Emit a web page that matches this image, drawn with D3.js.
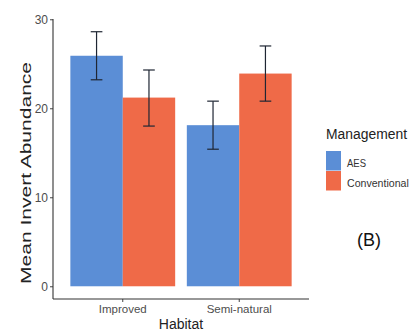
<!DOCTYPE html>
<html>
<head>
<meta charset="utf-8">
<script src="https://cdn.jsdelivr.net/npm/d3@7"></script>
<style>
  html, body { margin: 0; padding: 0; background: #fff; }
  svg { display: block; font-family: "Liberation Sans", Arial, sans-serif; }
</style>
</head>
<body>
<svg id="chart" width="413" height="334"></svg>
<script>
// Mean invertebrate abundance (± SE) by habitat and management
const habitats = ["Improved", "Semi-natural"];
const management = ["AES", "Conventional"];
const meanAES = [25.9, 18.1];
const meanConventional = [21.2, 23.9];
const lowerAES = [23.2, 15.4];
const upperAES = [28.6, 20.8];
const lowerConventional = [18.0, 20.8];
const upperConventional = [24.3, 27.0];
const yTicks = [0, 10, 20, 30];
const colors = ["#5b8ed6", "#ef6a48"];

const rows = [];
habitats.forEach((h, i) => {
  rows.push({ habitat: h, group: "AES", mean: meanAES[i], lo: lowerAES[i], hi: upperAES[i] });
  rows.push({ habitat: h, group: "Conventional", mean: meanConventional[i], lo: lowerConventional[i], hi: upperConventional[i] });
});

const svg = d3.select("#chart");
const panel = { left: 53, right: 309, top: 19, bottom: 299 };

// y domain padded 5% beyond the data range, as ggplot does
const yMax = d3.max(rows, d => d.hi);
const pad = yMax * 0.05;
const y = d3.scaleLinear().domain([-pad, yMax + pad]).range([panel.bottom, panel.top]);

const x = d3.scaleBand().domain(habitats)
  .range([panel.left, panel.right])
  .paddingInner(0.1).paddingOuter(0.149);
const xs = d3.scaleBand().domain(management).range([0, x.bandwidth()]).padding(0);
const color = d3.scaleOrdinal().domain(management).range(colors);

// bars
svg.append("g").selectAll("rect").data(rows).join("rect")
  .attr("x", d => x(d.habitat) + xs(d.group))
  .attr("width", xs.bandwidth())
  .attr("y", d => y(d.mean))
  .attr("height", d => y(0) - y(d.mean))
  .attr("fill", d => color(d.group));

// error bars
const capW = x.step() * 0.1;
const eb = svg.append("g").attr("stroke", "#1f2633").attr("stroke-width", 1.2).attr("fill", "none");
rows.forEach(d => {
  const cx = x(d.habitat) + xs(d.group) + xs.bandwidth() / 2;
  eb.append("line").attr("x1", cx).attr("x2", cx).attr("y1", y(d.lo)).attr("y2", y(d.hi));
  eb.append("line").attr("x1", cx - capW / 2).attr("x2", cx + capW / 2).attr("y1", y(d.hi)).attr("y2", y(d.hi));
  eb.append("line").attr("x1", cx - capW / 2).attr("x2", cx + capW / 2).attr("y1", y(d.lo)).attr("y2", y(d.lo));
});

// axes
const yAxis = svg.append("g").attr("transform", `translate(${panel.left},0)`)
  .call(d3.axisLeft(y).tickValues(yTicks).tickSize(3).tickPadding(2).tickFormat(d3.format("d")));
const xAxis = svg.append("g").attr("transform", `translate(0,${panel.bottom})`)
  .call(d3.axisBottom(x).tickSize(3).tickPadding(3));

[yAxis, xAxis].forEach(g => {
  g.select(".domain").remove();
  g.selectAll(".tick line").attr("stroke", "#444");
  g.selectAll(".tick text").attr("fill", "#4d4d4d").style("font-size", "12px")
    .style("font-family", '"Liberation Sans", Arial, sans-serif');
});
xAxis.selectAll(".tick text").style("font-size", "11.5px");

svg.append("line").attr("x1", panel.left).attr("x2", panel.left)
  .attr("y1", panel.top).attr("y2", panel.bottom).attr("stroke", "#333").attr("stroke-width", 1.1);
svg.append("line").attr("x1", panel.left).attr("x2", panel.right)
  .attr("y1", panel.bottom).attr("y2", panel.bottom).attr("stroke", "#333").attr("stroke-width", 1.1);

// axis titles
svg.append("text")
  .attr("transform", "translate(31,173) rotate(-90)")
  .attr("text-anchor", "middle")
  .attr("textLength", 222).attr("lengthAdjust", "spacingAndGlyphs")
  .attr("fill", "#222").style("font-size", "15px")
  .text("Mean Invert Abundance");

svg.append("text")
  .attr("x", (panel.left + panel.right) / 2).attr("y", 329)
  .attr("text-anchor", "middle").attr("fill", "#222").style("font-size", "14px")
  .text("Habitat");

// legend
const legend = svg.append("g").attr("transform", "translate(326,139)");
legend.append("text").attr("x", 0).attr("y", 0)
  .attr("fill", "#222").style("font-size", "14px")
  .attr("textLength", 81).attr("lengthAdjust", "spacingAndGlyphs")
  .text("Management");
management.forEach((m, i) => {
  legend.append("rect").attr("x", 0).attr("y", 12 + i * 20).attr("width", 15).attr("height", 19.5)
    .attr("fill", color(m));
  const t = legend.append("text").attr("x", 21).attr("y", 27.5 + i * 20)
    .attr("fill", "#333").style("font-size", m === "AES" ? "11.5px" : "10.6px")
    .text(m);
  if (m === "AES") t.attr("textLength", 19).attr("lengthAdjust", "spacingAndGlyphs");
});

// panel tag
svg.append("text").attr("x", 369).attr("y", 246)
  .attr("text-anchor", "middle").attr("fill", "#111").style("font-size", "18px")
  .text("(B)");
</script>
</body>
</html>
